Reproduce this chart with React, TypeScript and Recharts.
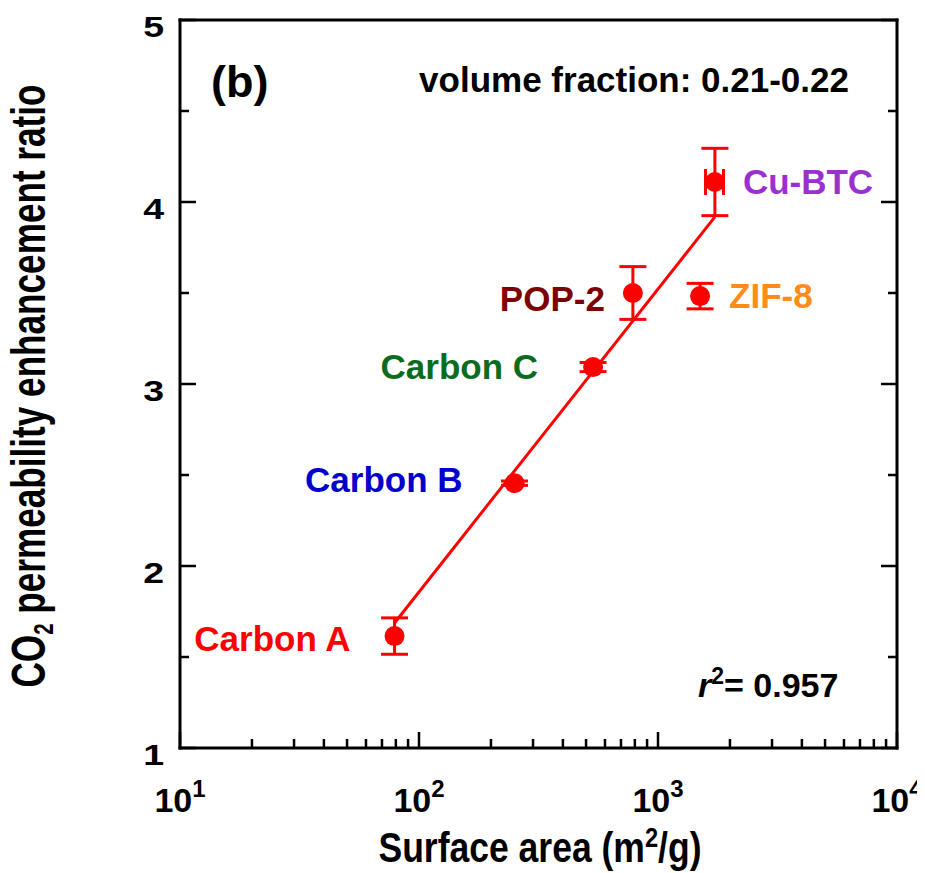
import { ErrorBar, Scatter, ScatterChart, XAxis, YAxis } from 'recharts';

const materials = ['Carbon A', 'Carbon B', 'Carbon C', 'POP-2', 'ZIF-8', 'Cu-BTC'];
const surfaceArea = [79, 251, 535, 785, 1500, 1730];
const enhancementRatio = [1.615, 2.455, 3.093, 3.5, 3.483, 4.11];
const ratioError = [0.1, 0.012, 0.025, 0.145, 0.07, 0.185];
const areaError = [0, 0, 0, 0, 0, 150];

// fitted line end points (log-linear fit, r^2 = 0.957)
const fitArea = [79, 1730];
const fitRatio = [1.687, 3.918];

const xMajorTicks = [10, 100, 1000, 10000];
const xMinorTicks = [
  20, 30, 40, 50, 60, 70, 80, 90,
  200, 300, 400, 500, 600, 700, 800, 900,
  2000, 3000, 4000, 5000, 6000, 7000, 8000, 9000,
];
const yMajorTicks = [1, 2, 3, 4, 5];
const yMinorTicks = [1.5, 2.5, 3.5, 4.5];

const RED = '#ff0000';
const FONT = '"Liberation Sans", Arial, Helvetica, sans-serif';

const LABEL_STYLE: Record<string, { color: string; anchor: 'start' | 'end'; dx: number; dy: number }> = {
  'Carbon A': { color: '#ff0000', anchor: 'end', dx: -44, dy: 15 },
  'Carbon B': { color: '#0000cd', anchor: 'end', dx: -52, dy: 9 },
  'Carbon C': { color: '#0b6b1f', anchor: 'end', dx: -55, dy: 12 },
  'POP-2': { color: '#7d0000', anchor: 'end', dx: -28, dy: 18 },
  'ZIF-8': { color: '#ff8c1a', anchor: 'start', dx: 29, dy: 12 },
  'Cu-BTC': { color: '#9b30d0', anchor: 'start', dx: 28, dy: 12 },
};

const points = materials.map((name, i) => ({
  name,
  area: surfaceArea[i],
  ratio: enhancementRatio[i],
  ratioErr: ratioError[i],
  areaErr: areaError[i] || undefined,
}));

const fitData = fitArea.map((area, i) => ({ area, ratio: fitRatio[i] }));

const xTicks = [...xMajorTicks, ...xMinorTicks].sort((a, b) => a - b);
const yTicks = [...yMajorTicks, ...yMinorTicks].sort((a, b) => a - b);

const axisLine = { stroke: '#000', strokeWidth: 3, strokeLinecap: 'square' as const };

function BottomTick({ x, y, payload }: any) {
  const major = xMajorTicks.includes(payload.value);
  return (
    <g>
      <line x1={x} x2={x} y1={y} y2={y - (major ? 16 : 9)} stroke="#000" strokeWidth={2.5} />
      {major && (
        <text x={x} y={y + 64} textAnchor="middle" fontFamily={FONT} fontWeight="bold" fontSize={34} fill="#000">
          10
          <tspan dy={-15} fontSize={24}>
            {Math.round(Math.log10(payload.value))}
          </tspan>
        </text>
      )}
    </g>
  );
}

function TopTick({ x, y, payload }: any) {
  const major = xMajorTicks.includes(payload.value);
  return <line x1={x} x2={x} y1={y} y2={y + (major ? 16 : 9)} stroke="#000" strokeWidth={2.5} />;
}

function LeftTick({ x, y, payload }: any) {
  const major = yMajorTicks.includes(payload.value);
  return (
    <g>
      <line x1={x} x2={x + (major ? 16 : 9)} y1={y} y2={y} stroke="#000" strokeWidth={2.5} />
      {major && (
        <text
          transform={`translate(${x - 16},${y + 17}) scale(1.25,1)`}
          textAnchor="end"
          fontFamily={FONT}
          fontWeight="bold"
          fontSize={30}
          fill="#000"
        >
          {payload.value}
        </text>
      )}
    </g>
  );
}

function RightTick({ x, y, payload }: any) {
  const major = yMajorTicks.includes(payload.value);
  return <line x1={x} x2={x - (major ? 16 : 9)} y1={y} y2={y} stroke="#000" strokeWidth={2.5} />;
}

function PointShape({ cx, cy, payload }: any) {
  const s = LABEL_STYLE[payload.name];
  return (
    <g>
      <circle cx={cx} cy={cy} r={10} fill={RED} />
      <text
        x={cx + s.dx}
        y={cy + s.dy}
        textAnchor={s.anchor}
        fill={s.color}
        fontFamily={FONT}
        fontWeight="bold"
        fontSize={35}
      >
        {payload.name}
      </text>
    </g>
  );
}

export default function App() {
  return (
    <div style={{ width: 917, height: 865 }}>
      <ScatterChart width={917} height={865} margin={{ top: 11, right: 27, bottom: 65, left: 112 }}>
        <XAxis
          dataKey="area"
          type="number"
          scale="log"
          domain={[10, 10000]}
          allowDataOverflow
          ticks={xTicks}
          interval={0}
          tickLine={false}
          tickSize={0}
          tickMargin={0}
          height={60}
          axisLine={axisLine}
          tick={(p: any) => <BottomTick {...p} />}
        />
        <XAxis
          xAxisId="top"
          orientation="top"
          type="number"
          scale="log"
          domain={[10, 10000]}
          allowDataOverflow
          ticks={xTicks}
          interval={0}
          tickLine={false}
          tickSize={0}
          tickMargin={0}
          height={1}
          axisLine={axisLine}
          tick={(p: any) => <TopTick {...p} />}
        />
        <YAxis
          dataKey="ratio"
          type="number"
          domain={[1, 5]}
          allowDataOverflow
          ticks={yTicks}
          interval={0}
          tickLine={false}
          tickSize={0}
          tickMargin={0}
          width={60}
          axisLine={axisLine}
          tick={(p: any) => <LeftTick {...p} />}
        />
        <YAxis
          yAxisId="right"
          orientation="right"
          type="number"
          domain={[1, 5]}
          allowDataOverflow
          ticks={yTicks}
          interval={0}
          tickLine={false}
          tickSize={0}
          tickMargin={0}
          width={1}
          axisLine={axisLine}
          tick={(p: any) => <RightTick {...p} />}
        />

        <Scatter
          data={fitData}
          line={{ stroke: RED, strokeWidth: 3 }}
          shape={() => <g />}
          isAnimationActive={false}
        />
        <Scatter data={points} shape={(p: any) => <PointShape {...p} />} isAnimationActive={false}>
          <ErrorBar dataKey="ratioErr" direction="y" width={13.5} strokeWidth={3} stroke={RED} />
          <ErrorBar dataKey="areaErr" direction="x" width={13} strokeWidth={3} stroke={RED} />
        </Scatter>

        <text x={203} y={89} fontFamily={FONT} fontWeight="bold" fontSize={45} fill="#000">
          (b)
        </text>
        <text x={841} y={84} textAnchor="end" fontFamily={FONT} fontWeight="bold" fontSize={35} fill="#000">
          volume fraction: 0.21-0.22
        </text>
        <text x={690} y={689} fontFamily={FONT} fontWeight="bold" fontSize={34} fill="#000">
          <tspan fontStyle="italic">r</tspan>
          <tspan dy={-13} fontSize={23}>2</tspan>
          <tspan dy={13}>= 0.957</tspan>
        </text>
        <text
          x={532}
          y={854}
          textAnchor="middle"
          fontFamily={FONT}
          fontWeight="bold"
          fontSize={42}
          textLength={323}
          lengthAdjust="spacingAndGlyphs"
          fill="#000"
        >
          Surface area (m<tspan dy={-15} fontSize={28}>2</tspan>
          <tspan dy={15}>/g)</tspan>
        </text>
        <text
          transform="translate(37,378) rotate(-90)"
          textAnchor="middle"
          fontFamily={FONT}
          fontWeight="bold"
          fontSize={48}
          textLength={603}
          lengthAdjust="spacingAndGlyphs"
          fill="#000"
        >
          CO<tspan dy={8} fontSize={28}>2</tspan>
          <tspan dy={-8}> permeability enhancement ratio</tspan>
        </text>
      </ScatterChart>
    </div>
  );
}
